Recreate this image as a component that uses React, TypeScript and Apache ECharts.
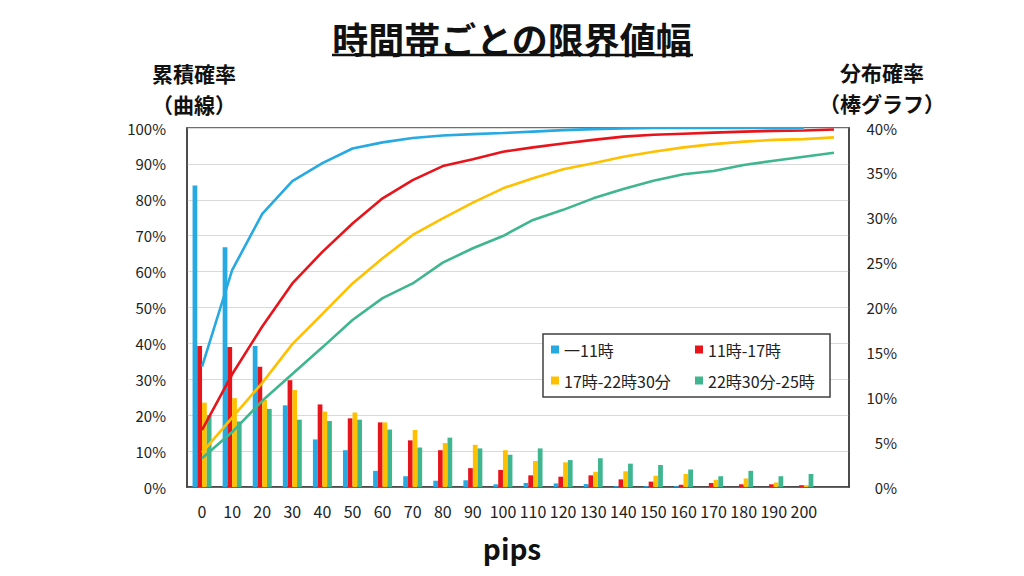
import React, { useEffect, useRef } from 'react';
import * as echarts from 'echarts';

const FONT = '"Noto Sans CJK JP", "Noto Sans", sans-serif';

const categories = ['0', '10', '20', '30', '40', '50', '60', '70', '80', '90', '100', '110', '120', '130', '140', '150', '160', '170', '180', '190', '200', ''];

const seriesNames = ['一11時', '11時-17時', '17時-22時30分', '22時30分-25時'];
const colors = ['#27A9E1', '#E8141B', '#FFC000', '#3FB68F'];

// distribution probability (%), right axis (bars)
const barBlue = [33.6, 26.7, 15.7, 9.1, 5.3, 4.1, 1.8, 1.2, 0.7, 0.75, 0.3, 0.45, 0.4, 0.33, 0.1, 0.1, 0.1, 0, 0, 0, 0, null];
const barRed = [15.7, 15.6, 13.4, 11.9, 9.2, 7.65, 7.2, 5.2, 4.1, 2.1, 1.9, 1.3, 1.15, 1.3, 0.85, 0.6, 0.25, 0.45, 0.3, 0.3, 0.2, null];
const barYellow = [9.4, 9.9, 9.7, 10.8, 8.4, 8.3, 7.2, 6.35, 4.9, 4.7, 4.1, 2.9, 2.75, 1.7, 1.75, 1.25, 1.45, 0.8, 0.95, 0.5, 0.2, null];
const barGreen = [8.0, 7.3, 8.7, 7.5, 7.35, 7.5, 6.4, 4.4, 5.5, 4.3, 3.6, 4.3, 3.0, 3.2, 2.6, 2.45, 1.95, 1.2, 1.8, 1.2, 1.45, null];

// cumulative probability (%), left axis (curves)
const cumBlue = [33.5, 60.4, 76.1, 85.2, 90.2, 94.3, 96.0, 97.2, 97.9, 98.3, 98.6, 99.0, 99.4, 99.7, 99.9, 100, 100, 100, 100, 100, 100, null];
const cumRed = [15.9, 31.4, 44.7, 56.7, 65.5, 73.4, 80.4, 85.5, 89.4, 91.3, 93.4, 94.6, 95.7, 96.7, 97.6, 98.1, 98.4, 98.7, 99.0, 99.2, 99.3, 99.6];
const cumYellow = [9.6, 19.3, 29.0, 39.8, 48.2, 56.7, 63.7, 70.2, 74.8, 79.2, 83.2, 86.0, 88.5, 90.2, 92.0, 93.4, 94.6, 95.5, 96.2, 96.7, 96.9, 97.4];
const cumGreen = [8.0, 15.3, 24.0, 31.5, 38.9, 46.5, 52.6, 56.7, 62.5, 66.5, 69.9, 74.4, 77.2, 80.4, 83.0, 85.3, 87.1, 88.0, 89.7, 90.9, 92.0, 93.1];

const barData = [barBlue, barRed, barYellow, barGreen];
const cumData = [cumBlue, cumRed, cumYellow, cumGreen];

export default function App() {
  const ref = useRef<HTMLDivElement>(null);

  useEffect(() => {
    const chart = echarts.init(ref.current as HTMLDivElement, null, { renderer: 'svg' });
    const barSeries = seriesNames.map((name, i) => ({
      type: 'bar',
      name,
      data: barData[i],
      yAxisIndex: 1,
      itemStyle: { color: colors[i] },
      barGap: '0%',
      barCategoryGap: '37%',
      z: 2,
    }));
    const lineSeries = seriesNames.map((name, i) => ({
      type: 'line',
      name: name + '（累積）',
      data: cumData[i],
      yAxisIndex: 0,
      symbol: 'none',
      lineStyle: { color: colors[i], width: 2.6 },
      itemStyle: { color: colors[i] },
      z: 3,
    }));

    const headerStyle = {
      font: `bold 21px ${FONT}`,
      fill: '#111',
      textAlign: 'center',
      textVerticalAlign: 'middle',
      lineHeight: 31,
    };

    chart.setOption({
      animation: false,
      backgroundColor: '#ffffff',
      textStyle: { fontFamily: FONT },
      grid: {
        left: 187,
        right: 175,
        top: 128,
        bottom: 89,
        show: true,
        borderColor: '#404040',
        borderWidth: 1.5,
        backgroundColor: 'transparent',
      },
      legend: {
        data: seriesNames,
        left: 543,
        top: 334,
        width: 280,
        orient: 'horizontal',
        icon: 'rect',
        itemWidth: 8,
        itemHeight: 8,
        itemGap: 14,
        padding: [7, 5, 8, 8],
        backgroundColor: '#ffffff',
        borderColor: '#404040',
        borderWidth: 1.5,
        borderRadius: 0,
        textStyle: { fontFamily: FONT, fontSize: 16, color: '#222', width: 117, lineHeight: 17 },
        z: 10,
      },
      xAxis: {
        type: 'category',
        data: categories,
        boundaryGap: true,
        axisTick: { show: false },
        axisLine: { show: true, lineStyle: { color: '#404040', width: 1.5 } },
        axisLabel: { interval: 0, fontSize: 16, color: '#222', margin: 16, fontFamily: FONT },
        splitLine: { show: false },
      },
      yAxis: [
        {
          type: 'value',
          min: 0,
          max: 100,
          interval: 10,
          position: 'left',
          axisLabel: { formatter: '{value}%', fontSize: 15, color: '#222', margin: 21, fontFamily: FONT },
          axisLine: { show: true, lineStyle: { color: '#404040', width: 1.5 } },
          axisTick: { show: false },
          splitLine: { show: true, lineStyle: { color: '#d9d9d9', width: 1 } },
        },
        {
          type: 'value',
          min: 0,
          max: 40,
          interval: 5,
          position: 'right',
          axisLabel: { formatter: '{value}%', fontSize: 15, color: '#222', margin: 48, align: 'right', fontFamily: FONT },
          axisLine: { show: true, lineStyle: { color: '#404040', width: 1.5 } },
          axisTick: { show: false },
          splitLine: { show: false },
        },
      ],
      series: [...barSeries, ...lineSeries],
      graphic: [
        {
          type: 'text',
          x: 512,
          y: 38,
          style: {
            text: '時間帯ごとの限界値幅',
            font: `bold 36px ${FONT}`,
            fill: '#111',
            textAlign: 'center',
            textVerticalAlign: 'middle',
          },
        },
        {
          type: 'line',
          shape: { x1: 332, y1: 55, x2: 693, y2: 55 },
          style: { stroke: '#111', lineWidth: 2.5 },
        },
        {
          type: 'text',
          x: 194,
          y: 88,
          style: { ...headerStyle, text: '累積確率\n（曲線）' },
        },
        {
          type: 'text',
          x: 882,
          y: 87,
          style: { ...headerStyle, text: '分布確率\n（棒グラフ）' },
        },
        {
          type: 'text',
          x: 512,
          y: 548,
          style: {
            text: 'pips',
            font: `bold 28px ${FONT}`,
            fill: '#111',
            textAlign: 'center',
            textVerticalAlign: 'middle',
          },
        },
      ],
    });

    return () => chart.dispose();
  }, []);

  return (
    <div
      ref={ref}
      style={{ position: 'fixed', left: 0, top: 0, width: 1024, height: 576 }}
    />
  );
}
